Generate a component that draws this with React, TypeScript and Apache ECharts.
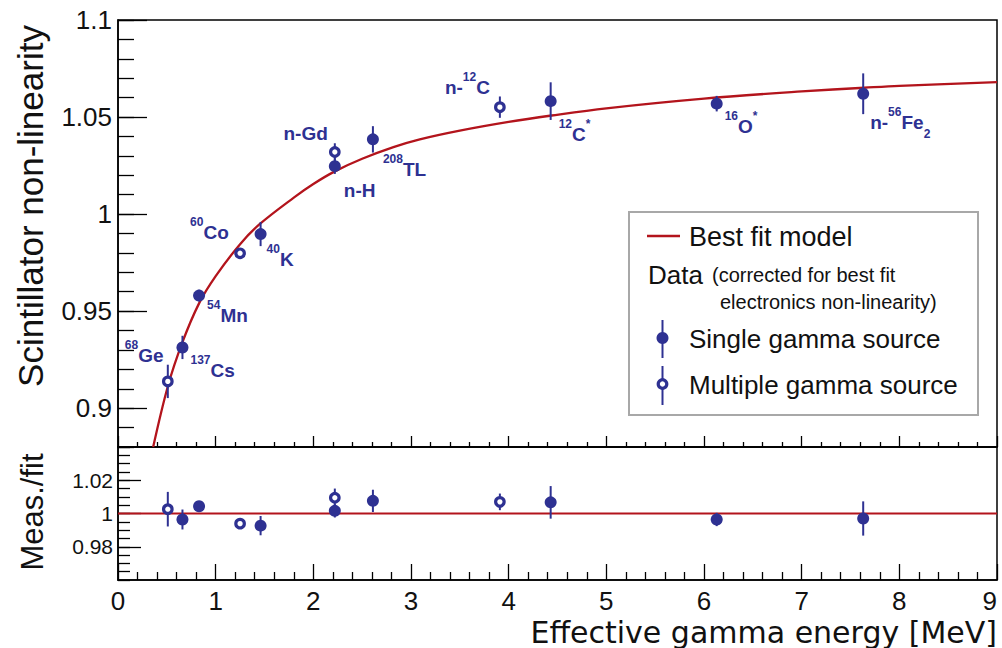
import React, { useEffect, useRef } from "react";
import * as echarts from "echarts";

// ---------------- data ----------------
const SOURCE_NAMES = ["68Ge", "137Cs", "54Mn", "60Co", "40K", "n-Gd", "n-H", "208Tl", "n-12C", "12C*", "16O*", "n-56Fe2"];
const SOURCE_TYPE = ["multiple", "single", "single", "multiple", "single", "multiple", "single", "single", "multiple", "single", "single", "single"];
const ENERGY = [0.51, 0.66, 0.83, 1.25, 1.46, 2.22, 2.22, 2.61, 3.91, 4.43, 6.13, 7.63];
const NONLIN = [0.9138, 0.9313, 0.958, 0.9798, 0.9897, 1.032, 1.0247, 1.0385, 1.0551, 1.0582, 1.0569, 1.062];
const NONLIN_ERR = [0.0086, 0.006, 0.003, 0.002, 0.0062, 0.0045, 0.004, 0.0068, 0.0055, 0.0097, 0.004, 0.0105];
const RATIO = [1.0026, 0.9964, 1.0044, 0.9939, 0.9927, 1.0095, 1.0016, 1.0076, 1.007, 1.0067, 0.9964, 0.997];
const RATIO_ERR = [0.0104, 0.006, 0.003, 0.002, 0.0058, 0.0055, 0.004, 0.0067, 0.005, 0.0098, 0.004, 0.0103];

// best fit model curve
const FIT_E = [0.36, 0.51, 0.66, 0.83, 1.0, 1.25, 1.45, 1.8, 2.0, 2.22, 2.5, 2.82, 3.09, 3.5, 4.0, 4.44, 5.0, 6.0, 7.0, 7.64, 8.0, 9.0];
const FIT_V = [0.88, 0.9112, 0.934, 0.954, 0.968, 0.9845, 0.9948, 1.0085, 1.0155, 1.022, 1.0285, 1.0345, 1.0385, 1.043, 1.0475, 1.0508, 1.0545, 1.0595, 1.0632, 1.0651, 1.0661, 1.068];

const RATIO_REF_E = [0, 9];
const RATIO_REF_V = [1, 1];

// labels (rich text)
const LABEL_TEXT: Record<string, string> = {
  "68Ge": "{sup|68}{m|Ge}",
  "137Cs": "{sup|137}{m|Cs}",
  "54Mn": "{sup|54}{m|Mn}",
  "60Co": "{sup|60}{m|Co}",
  "40K": "{sup|40}{m|K}",
  "n-Gd": "{m|n-Gd}",
  "n-H": "{m|n-H}",
  "208Tl": "{sup|208}{m|TL}",
  "n-12C": "{m|n-}{sup|12}{m|C}",
  "12C*": "{sup|12}{m|C}{sup|*}",
  "16O*": "{sup|16}{m|O}{sup|*}",
  "n-56Fe2": "{m|n-}{sup|56}{m|Fe}{sub|2}",
};

// label placement (style): [dx, dy, align]
const LABEL_POS: Record<string, [number, number, string]> = {
  "68Ge": [-43, -32, "left"],
  "137Cs": [8, 17, "left"],
  "54Mn": [8, 13.5, "left"],
  "60Co": [-50, -27.5, "left"],
  "40K": [6, 18.5, "left"],
  "n-Gd": [-7, -25, "right"],
  "n-H": [9, 18, "left"],
  "208Tl": [10, 23.5, "left"],
  "n-12C": [-55, -26, "left"],
  "12C*": [8, 27, "left"],
  "16O*": [8, 16, "left"],
  "n-56Fe2": [7, 22, "left"],
};

const X_TICK_LABELS = [0, 1, 2, 3, 4, 5, 6, 7, 8, 9];
const Y_TOP_LABELS = [0.9, 0.95, 1, 1.05, 1.1];
const Y_BOT_LABELS = [0.98, 1, 1.02];

// ---------------- style ----------------
const BLUE = "#2e3192";
const RED = "#b3141c";
const FONT = "Liberation Sans";
const INK = "#111";

const richStyles = {
  m: { fontFamily: FONT, fontWeight: "bold", fontSize: 19, lineHeight: 20, padding: [7, 0, 0, 0], verticalAlign: "top", color: BLUE },
  sup: { fontFamily: FONT, fontWeight: "bold", fontSize: 12, lineHeight: 12, verticalAlign: "top", color: BLUE },
  sub: { fontFamily: FONT, fontWeight: "bold", fontSize: 12, lineHeight: 12, padding: [22, 0, 0, 0], verticalAlign: "top", color: BLUE },
};

function fmt(v: number) {
  return String(+Number(v).toFixed(3));
}

function errRender(params: any, api: any) {
  const x = api.value(0);
  const y = api.value(1);
  const e = api.value(2);
  const p1 = api.coord([x, y - e]);
  const p2 = api.coord([x, y + e]);
  return {
    type: "line",
    shape: { x1: p1[0], y1: p1[1], x2: p2[0], y2: p2[1] },
    style: { stroke: BLUE, lineWidth: 2 },
  };
}

function pointItems(kind: string, values: number[], withLabels: boolean) {
  const out: any[] = [];
  SOURCE_NAMES.forEach((name, i) => {
    if (SOURCE_TYPE[i] !== kind) return;
    const item: any = { name, value: [ENERGY[i], values[i]] };
    if (withLabels) {
      const [dx, dy, align] = LABEL_POS[name];
      item.label = {
        show: true,
        position: "inside",
        align,
        verticalAlign: "middle",
        offset: [dx, dy],
        formatter: LABEL_TEXT[name],
        rich: richStyles,
      };
    }
    out.push(item);
  });
  return out;
}

const tickStyle = { color: "#000", width: 1.3 };

function xAxis(gridIndex: number, showLabels: boolean, major: number, minor: number) {
  return {
    type: "value",
    gridIndex,
    min: 0,
    max: 9,
    interval: 1,
    axisLine: { show: true, onZero: false, lineStyle: { color: "#000", width: 1.5 } },
    axisTick: { show: true, inside: true, length: major, lineStyle: tickStyle },
    minorTick: { show: true, splitNumber: 5, length: minor, lineStyle: tickStyle },
    splitLine: { show: false },
    axisLabel: {
      show: showLabels,
      margin: 10,
      fontFamily: FONT,
      fontSize: 26,
      lineHeight: 22,
      color: INK,
      alignMaxLabel: "right",
      formatter: (v: number) => (X_TICK_LABELS.includes(v) ? String(v) : ""),
    },
  };
}

export default function App() {
  const ref = useRef<HTMLDivElement>(null);

  useEffect(() => {
    if (!ref.current) return;
    const chart = echarts.init(ref.current, null, { renderer: "svg" });

    const option: any = {
      animation: false,
      backgroundColor: "#fff",
      grid: [
        { left: 118, top: 20, width: 879, height: 427, show: true, borderColor: "#000", borderWidth: 1.5, backgroundColor: "transparent", outerBoundsMode: "none", containLabel: false },
        { left: 118, top: 447, width: 879, height: 133, show: true, borderColor: "#000", borderWidth: 1.5, backgroundColor: "transparent", outerBoundsMode: "none", containLabel: false },
      ],
      xAxis: [xAxis(0, false, 11, 5), xAxis(1, true, 16, 8)],
      yAxis: [
        {
          type: "value", gridIndex: 0, position: "left", min: 0.88, max: 1.1, interval: 0.01,
          axisLine: { show: true, onZero: false, lineStyle: { color: "#000", width: 1.5 } },
          axisTick: { show: true, inside: true, length: 16, lineStyle: tickStyle },
          splitLine: { show: false },
          axisLabel: { show: true, customValues: Y_TOP_LABELS, margin: 6, fontFamily: FONT, fontSize: 26, color: INK, formatter: fmt },
        },
        {
          type: "value", gridIndex: 0, position: "left", min: 0.88, max: 1.1,
          axisLine: { show: false },
          axisTick: { show: true, inside: true, length: 29, customValues: Y_TOP_LABELS, lineStyle: tickStyle },
          splitLine: { show: false },
          axisLabel: { show: false },
        },
        {
          type: "value", gridIndex: 1, position: "left", min: 0.96, max: 1.04, interval: 0.005,
          axisLine: { show: true, onZero: false, lineStyle: { color: "#000", width: 1.5 } },
          axisTick: { show: true, inside: true, length: 12, lineStyle: tickStyle },
          splitLine: { show: false },
          axisLabel: { show: true, customValues: Y_BOT_LABELS, margin: 5, fontFamily: FONT, fontSize: 21, color: INK, formatter: fmt },
        },
        {
          type: "value", gridIndex: 1, position: "left", min: 0.96, max: 1.04,
          axisLine: { show: false },
          axisTick: { show: true, inside: true, length: 23, customValues: Y_BOT_LABELS, lineStyle: tickStyle },
          splitLine: { show: false },
          axisLabel: { show: false },
        },
      ],
      series: [
        {
          type: "line", xAxisIndex: 0, yAxisIndex: 0, z: 2,
          data: FIT_E.map((e, i) => [e, FIT_V[i]]),
          smooth: 0.35, showSymbol: false, symbol: "none",
          lineStyle: { color: RED, width: 2.3 }, emphasis: { disabled: true }, clip: true,
        },
        {
          type: "custom", xAxisIndex: 0, yAxisIndex: 0, z: 3, clip: true,
          data: ENERGY.map((e, i) => [e, NONLIN[i], NONLIN_ERR[i]]),
          renderItem: errRender, encode: { x: 0, y: 1 },
        },
        {
          type: "scatter", xAxisIndex: 0, yAxisIndex: 0, z: 4,
          data: pointItems("single", NONLIN, true),
          symbol: "circle", symbolSize: 12, itemStyle: { color: BLUE, opacity: 1 }, emphasis: { disabled: true },
        },
        {
          type: "scatter", xAxisIndex: 0, yAxisIndex: 0, z: 4,
          data: pointItems("multiple", NONLIN, true),
          symbol: "circle", symbolSize: 8.5, itemStyle: { color: "#fff", borderColor: BLUE, borderWidth: 3.2, opacity: 1 }, emphasis: { disabled: true },
        },
        {
          type: "line", xAxisIndex: 1, yAxisIndex: 2, z: 2,
          data: RATIO_REF_E.map((e, i) => [e, RATIO_REF_V[i]]),
          showSymbol: false, symbol: "none", lineStyle: { color: RED, width: 2 }, emphasis: { disabled: true },
        },
        {
          type: "custom", xAxisIndex: 1, yAxisIndex: 2, z: 3, clip: true,
          data: ENERGY.map((e, i) => [e, RATIO[i], RATIO_ERR[i]]),
          renderItem: errRender, encode: { x: 0, y: 1 },
        },
        {
          type: "scatter", xAxisIndex: 1, yAxisIndex: 2, z: 4,
          data: pointItems("single", RATIO, false),
          symbol: "circle", symbolSize: 12, itemStyle: { color: BLUE, opacity: 1 }, emphasis: { disabled: true },
        },
        {
          type: "scatter", xAxisIndex: 1, yAxisIndex: 2, z: 4,
          data: pointItems("multiple", RATIO, false),
          symbol: "circle", symbolSize: 8.5, itemStyle: { color: "#fff", borderColor: BLUE, borderWidth: 3.2, opacity: 1 }, emphasis: { disabled: true },
        },
      ],
      graphic: [
        // axis titles
        { type: "text", x: 30, y: 206, rotation: Math.PI / 2, style: { text: "Scintillator non-linearity", fontFamily: FONT, fontSize: 35, fill: INK, align: "center", verticalAlign: "middle" } },
        { type: "text", x: 32, y: 512, rotation: Math.PI / 2, style: { text: "Meas./fit", fontFamily: FONT, fontSize: 31, fill: INK, align: "center", verticalAlign: "middle" } },
        { type: "text", x: 997, y: 632, style: { text: "Effective gamma energy [MeV]", fontFamily: "DejaVu Sans", fontSize: 30, lineHeight: 30, fill: INK, align: "right", verticalAlign: "middle" } },
        // legend
        { type: "rect", shape: { x: 629, y: 212, width: 349, height: 203 }, style: { fill: "#fff", stroke: "#a8a8a8", lineWidth: 2 }, z: 100 },
        { type: "line", shape: { x1: 647, y1: 236, x2: 680, y2: 236 }, style: { stroke: RED, lineWidth: 2.3 }, z: 101 },
        { type: "text", x: 689, y: 237, style: { text: "Best fit model", fontFamily: FONT, fontSize: 27, fill: INK, align: "left", verticalAlign: "middle" }, z: 101 },
        { type: "text", x: 648, y: 275, style: { text: "Data", fontFamily: FONT, fontSize: 26, fill: INK, align: "left", verticalAlign: "middle" }, z: 101 },
        { type: "text", x: 712, y: 275, style: { text: "(corrected for best fit", fontFamily: FONT, fontSize: 20, fill: INK, align: "left", verticalAlign: "middle" }, z: 101 },
        { type: "text", x: 720, y: 302, style: { text: "electronics non-linearity)", fontFamily: FONT, fontSize: 20, fill: INK, align: "left", verticalAlign: "middle" }, z: 101 },
        { type: "line", shape: { x1: 662.5, y1: 320, x2: 662.5, y2: 358 }, style: { stroke: BLUE, lineWidth: 2 }, z: 101 },
        { type: "circle", shape: { cx: 662.5, cy: 338, r: 6 }, style: { fill: BLUE }, z: 102 },
        { type: "text", x: 689, y: 339, style: { text: "Single gamma source", fontFamily: FONT, fontSize: 26, fill: INK, align: "left", verticalAlign: "middle" }, z: 101 },
        { type: "line", shape: { x1: 662.5, y1: 366, x2: 662.5, y2: 405 }, style: { stroke: BLUE, lineWidth: 2 }, z: 101 },
        { type: "circle", shape: { cx: 662.5, cy: 384, r: 4.3 }, style: { fill: "#fff", stroke: BLUE, lineWidth: 3.2 }, z: 102 },
        { type: "text", x: 689, y: 385, style: { text: "Multiple gamma source", fontFamily: FONT, fontSize: 26, fill: INK, align: "left", verticalAlign: "middle" }, z: 101 },
      ],
    };

    chart.setOption(option);
    return () => chart.dispose();
  }, []);

  return (
    <div
      ref={ref}
      style={{ position: "absolute", left: 0, top: 0, width: 1002, height: 648, background: "#fff" }}
    />
  );
}
